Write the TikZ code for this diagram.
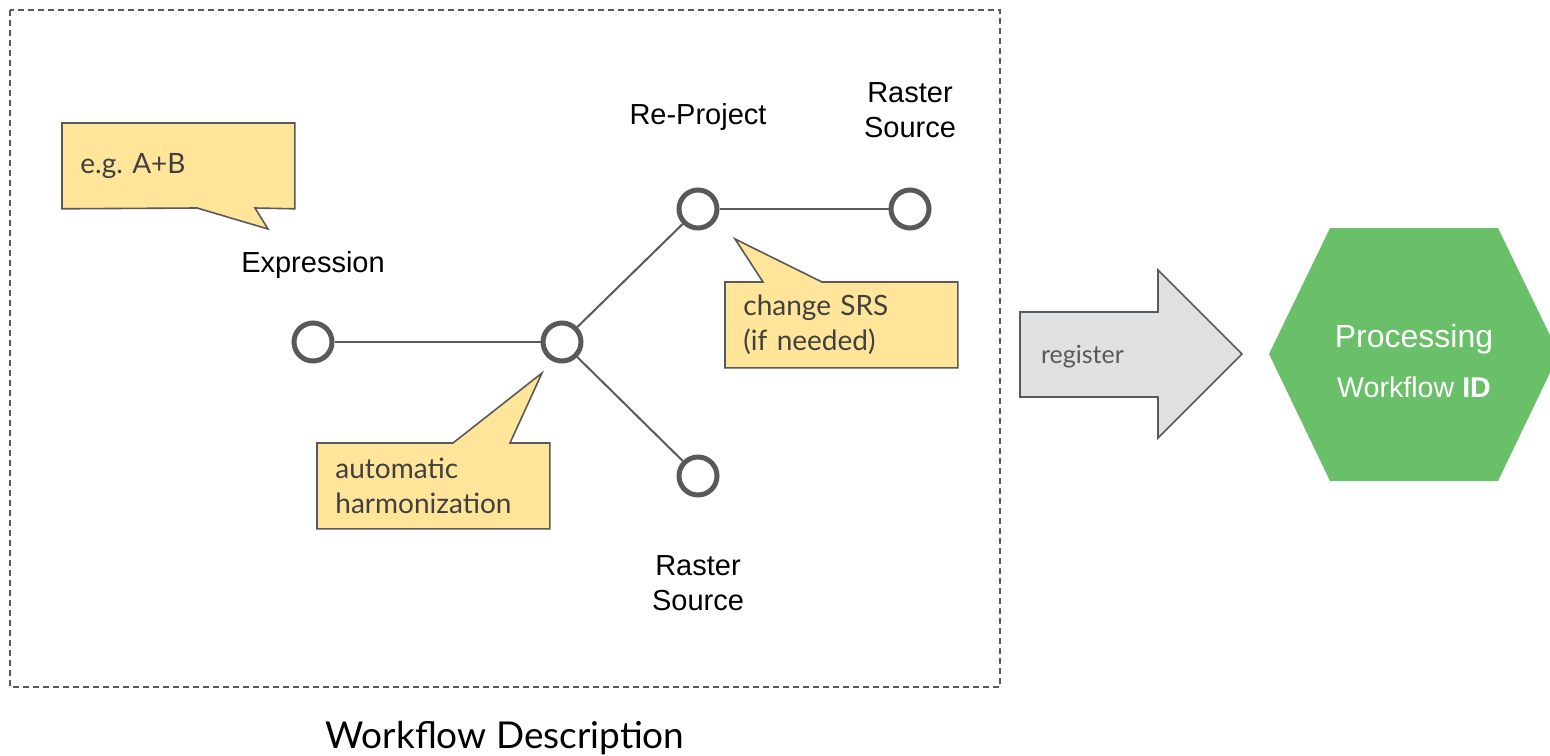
\documentclass[tikz,border=0pt]{standalone}
\usepackage{fontspec}
\setmainfont{Liberation Sans}
\newfontfamily\lato{Lato}
\usetikzlibrary{backgrounds}

\definecolor{edgegray}{HTML}{595959}
\definecolor{noteyellow}{HTML}{FFE599}
\definecolor{idgreen}{HTML}{6ABF69}
\definecolor{arrowgray}{HTML}{E0E1E3}

\begin{document}
\begin{tikzpicture}[x=0.5pt, y=-0.5pt,
  port/.style = {circle, draw=edgegray, line width=2.5pt, fill=white,
    minimum size=19pt, inner sep=0pt},
  link/.style = {draw=edgegray, line width=1pt},
  caption/.style = {font=\fontsize{14.5}{17.5}\selectfont, align=center},
  note/.style = {font=\lato\fontsize{14}{17.5}\selectfont, text=black!75,
    align=left, text width=98pt, minimum width=116pt, minimum height=42.5pt,
    inner sep=0pt, anchor=north west},
  noteshape/.style = {fill=noteyellow, draw=edgegray, line width=0.8pt}]

  \useasboundingbox (0,0) rectangle (1550,755);
  \draw[edgegray, line width=0.6pt, dash pattern=on 3pt off 2pt] (10,10) rectangle (1000,687);

  % workflow graph
  \node[port] (expr) at (313,342) {};
  \node[port] (harm) at (562,342) {};
  \node[port] (proj) at (698,209) {};
  \node[port] (srcA) at (910,209) {};
  \node[port] (srcB) at (698,476) {};
  \draw[link] (expr) -- (harm);
  \draw[link] (harm) -- (proj);
  \draw[link] (proj) -- (srcA);
  \draw[link] (harm) -- (srcB);

  \node[caption] (exprlabel) at (313,265) {Expression};
  \node[caption] (projlabel) at (698,117) {Re-Project};
  \node[caption] (srcAlabel) at (910,110) {Raster\\Source};
  \node[caption] (srcBlabel) at (698,583) {Raster\\Source};

  % notes
  \node[note] (eg) at (62,123) {e.g.\ A+B};
  \node[note] (srs) at (725,282) {change SRS\\(if needed)};
  \node[note] (auto) at (317,443) {automatic\\harmonization};
  \begin{scope}[on background layer]
    \path[noteshape] (eg.north west) -- (eg.north east) -- (eg.south east)
      -- (255,208) -- (268,229) -- (197,208) -- (eg.south west) -- cycle;
    \path[noteshape] (srs.south west) -- (srs.north west) -- (763,282)
      -- (735,239) -- (822,282) -- (srs.north east) -- (srs.south east) -- cycle;
    \path[noteshape] (auto.south west) -- (auto.north west) -- (453,443)
      -- (542,373) -- (510,443) -- (auto.north east) -- (auto.south east) -- cycle;
  \end{scope}

  % register arrow and result
  \path[fill=arrowgray, draw=edgegray, line width=0.8pt] (1020,312) -- (1158,312)
    -- (1158,270) -- (1242,354) -- (1158,438) -- (1158,397) -- (1020,397) -- cycle;
  \node[font=\lato\fontsize{12.5}{15}\selectfont, text=edgegray, anchor=west] (reg) at (1034,357) {register};

  \path[fill=idgreen] (1269,354) -- (1330,228) -- (1498,228) -- (1559,354)
    -- (1498,481) -- (1330,481) -- cycle;
  \node[text=white, font=\fontsize{16}{18}\selectfont] (proc) at (1414,339) {Processing};
  \node[text=white, font=\fontsize{14.3}{17}\selectfont] (wfid) at (1414,387) {Workflow \textbf{ID}};

  \node[font=\lato\fontsize{18.5}{22}\selectfont] (title) at (505,738) {Workflow Description};
\end{tikzpicture}
\end{document}
